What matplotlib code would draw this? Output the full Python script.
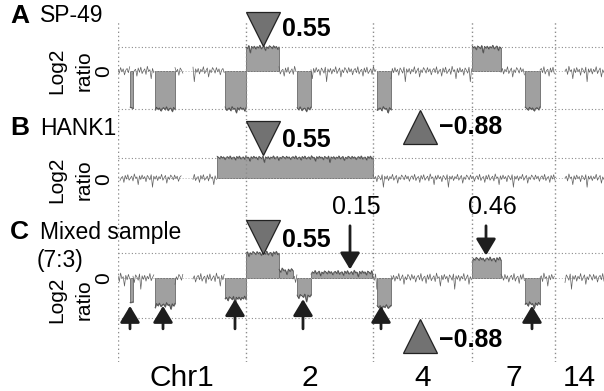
import matplotlib.pyplot as plt
import numpy as np

plt.rcParams['font.family'] = ['Liberation Sans', 'DejaVu Sans']

# chromosome borders on a relative genome axis
chrom_names = ['Chr1', '2', '4', '7', '14']
chrom_edges = [0, 128, 255, 354, 437, 486]
gain_level = 0.55
loss_level = -0.88

# hand-read jitter of the probe traces (log2 units)
jitter = [0.03, -0.05, 0.08, -0.02, 0.05, -0.09, 0.02, 0.06, -0.04, 0.10,
          -0.07, 0.01, 0.04, -0.12, 0.07, -0.03, 0.09, -0.06, 0.00, 0.05,
          -0.08, 0.11, -0.01, 0.03, -0.18, 0.06, -0.04, 0.08, -0.02, 0.04,
          -0.10, 0.07, 0.02, -0.05, 0.09, -0.25, 0.05, -0.03, 0.06, -0.07,
          0.04, -0.02, 0.10, -0.06, 0.01, 0.07, -0.14, 0.03, -0.04, 0.08]

# panel A: SP-49
noise_a = [(0, 12), (15, 37), (57, 65), (75, 107), (161, 179), (193, 259),
           (273, 354), (383, 407), (422, 437), (447, 486)]
seg_a = [(12, 15, -0.88), (37, 57, -0.88), (107, 128, -0.88), (128, 161, 0.55),
         (179, 193, -0.88), (259, 273, -0.88), (354, 383, 0.55), (407, 422, -0.88)]

# panel B: HANK1
noise_b = [(2, 64), (75, 99), (255, 437), (447, 486)]
seg_b = [(99, 255, 0.55)]

# panel C: mixed sample (7:3)
noise_c = [(0, 12), (15, 37), (57, 65), (75, 107), (175, 179), (255, 259),
           (273, 354), (383, 407), (422, 437), (447, 486)]
seg_c = [(12, 15, -0.55), (37, 57, -0.60), (107, 128, -0.45), (128, 161, 0.55),
         (161, 175, 0.17), (179, 193, -0.40), (193, 255, 0.12), (259, 273, -0.64),
         (354, 383, 0.42), (407, 422, -0.58)]
arrows_up = [12, 45, 117, 185, 263, 414]
arrows_down = [(232, 0.15), (368, 0.46)]

W, H = 604, 391
fig = plt.figure(figsize=(W / 100, H / 100), dpi=100)


def add_panel(top, bottom, zero, scale):
    ax = fig.add_axes([118 / W, 1 - bottom / H, 486 / W, (bottom - top) / H])
    ax.set_xlim(chrom_edges[0], chrom_edges[-1])
    ax.set_ylim(-(bottom - zero) / scale, (zero - top) / scale)
    ax.axis('off')
    for e in chrom_edges[:-1]:
        ax.axvline(e + 0.4, color='#8c8c8c', ls=(0, (1, 2)), lw=1.0, zorder=3)
    return ax


counter = [0]


def trace(n):
    out = []
    for _ in range(n):
        out.append(jitter[counter[0] % len(jitter)])
        counter[0] += 1
    return np.array(out)


def draw_data(ax, noise, segs, hlines):
    for h in hlines:
        ax.axhline(h, color='#8a8a8a', ls=(0, (1, 2)), lw=0.8)
    ax.axhline(0, color='#b0b0b0', ls=(0, (1, 2)), lw=0.7)
    for s, e in noise:
        x = np.arange(s, e + 0.01, 1.3)
        ax.plot(x, trace(len(x)), color='#606060', lw=0.5)
    for s, e, lev in segs:
        x = np.linspace(s, e, max(int((e - s) / 1.3), 2))
        y = lev + 0.5 * trace(len(x))
        ax.fill_between(x, 0, y, color='#a0a0a0', edgecolor='#6a6a6a', lw=0.6)
        ax.plot(x, y, color='#4a4a4a', lw=0.5)


axA = add_panel(22, 120, 71, 43)
axB = add_panel(120, 215, 178, 37)
axC = add_panel(215, 362, 278, 45)
draw_data(axA, noise_a, seg_a, [gain_level, loss_level])
draw_data(axB, noise_b, seg_b, [gain_level])
draw_data(axC, noise_c, seg_c, [gain_level, loss_level])

tri = dict(ms=24, mfc='#727272', mec='#222222', mew=0.9, clip_on=False, ls='none', zorder=5)
big = dict(fontsize=18, fontweight='bold', va='center', ha='left')
axA.plot([145], [0.98], marker='v', **tri)
axA.text(164, 0.98, '0.55', **big)
axB.plot([145], [1.08], marker='v', **tri)
axB.text(164, 1.02, '0.55', **big)
axB.plot([302], [1.39], marker='^', **tri)
axB.text(321, 1.38, '\u22120.88', **big)
axC.plot([145], [0.91], marker='v', **tri)
axC.text(164, 0.84, '0.55', **big)
axC.plot([302], [-1.29], marker='^', **tri)
axC.text(321, -1.38, '\u22120.88', **big)

arrow_style = dict(arrowstyle='-|>,head_length=1.0,head_width=0.6',
                   color='#1e1e1e', lw=2, mutation_scale=10, shrinkA=0, shrinkB=0)
for x in arrows_up:
    tip = -0.47 if x in (117, 185) else -0.62
    axC.annotate('', xy=(x, tip), xytext=(x, -1.13), arrowprops=arrow_style)
for x, v in arrows_down:
    tip = v + 0.04
    axC.annotate('', xy=(x, tip), xytext=(x, 1.16), arrowprops=arrow_style)
    axC.text(x + 6, 1.58, '%.2f' % v, fontsize=18, ha='center', va='center')

# panel titles and y labels
lab = dict(fontsize=16.5, va='center', ha='left')
fig.text(10 / W, 1 - 16 / H, 'A', fontsize=19, fontweight='bold', va='center')
fig.text(40 / W, 1 - 16 / H, 'SP-49', **lab)
fig.text(10 / W, 1 - 128 / H, 'B', fontsize=19, fontweight='bold', va='center')
fig.text(40 / W, 1 - 128 / H, 'HANK1', **lab)
fig.text(10 / W, 1 - 232 / H, 'C', fontsize=19, fontweight='bold', va='center')
fig.text(40 / W, 1 - 232 / H, 'Mixed sample', **lab)
fig.text(37 / W, 1 - 260 / H, '(7:3)', **lab)
for yc, yz in [(71, 71), (180, 179), (300, 278)]:
    fig.text(57 / W, 1 - yc / H, 'Log2', fontsize=15, rotation=90, ha='center', va='center')
    fig.text(84 / W, 1 - yc / H, 'ratio', fontsize=15, rotation=90, ha='center', va='center')
    fig.text(104 / W, 1 - yz / H, '0', fontsize=15, rotation=90, ha='center', va='center')

for i, name in enumerate(chrom_names):
    mid = (chrom_edges[i] + chrom_edges[i + 1]) / 2
    axC.text(mid, -2.40, name, fontsize=21.5, ha='center', va='baseline', clip_on=False)

fig.savefig('out.png', dpi=100)
